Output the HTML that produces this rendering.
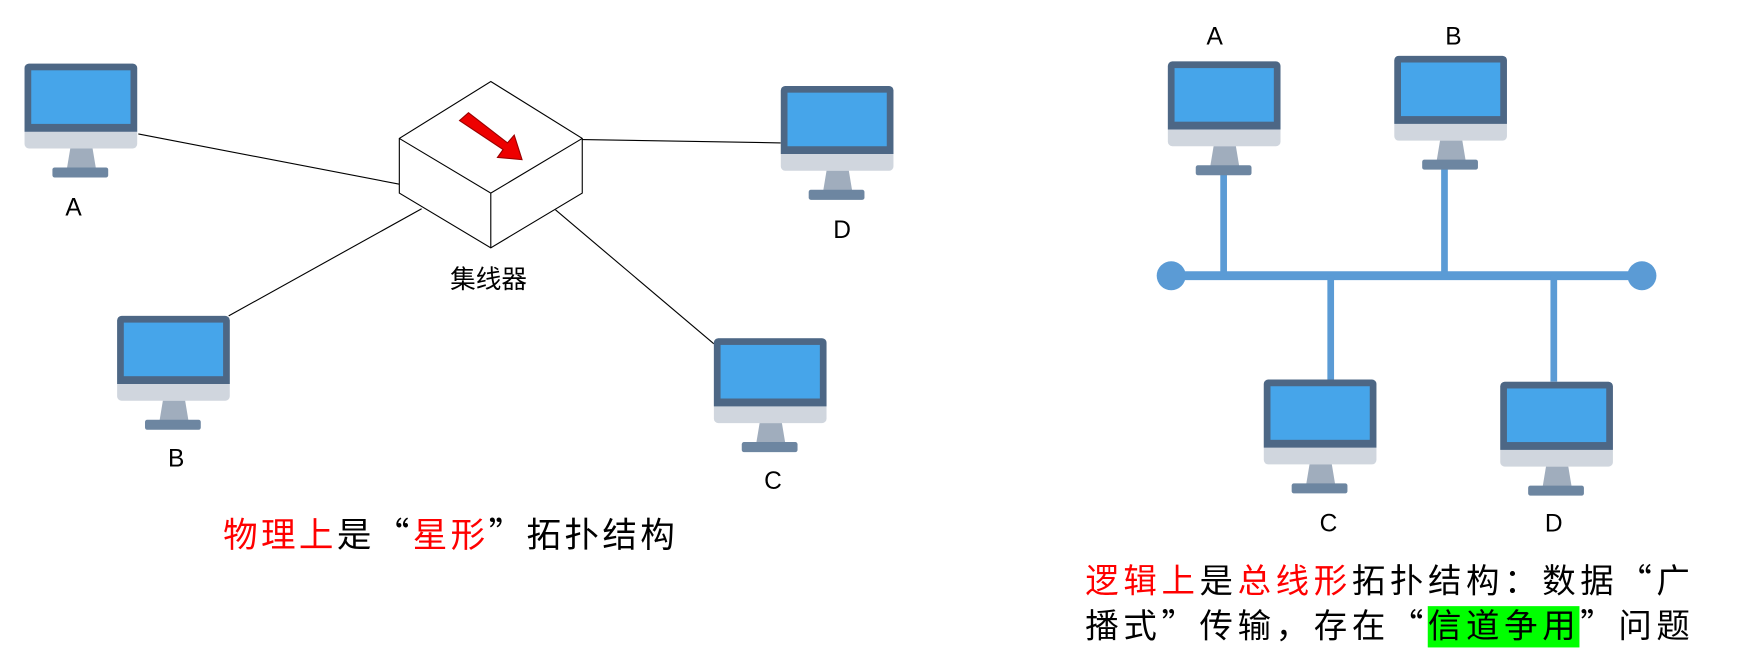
<!DOCTYPE html>
<html><head><meta charset="utf-8"><style>
html,body{margin:0;padding:0;background:#fff;width:1749px;height:672px;overflow:hidden}
svg{display:block}
text{font-family:"Liberation Sans","Noto Sans CJK SC",sans-serif}
.cjk{font-family:"Noto Sans CJK SC",sans-serif}
</style></head><body>
<svg width="1749" height="672" viewBox="0 0 1568 602" preserveAspectRatio="none">
<defs>
<g id="mon">
<rect x="0" y="0" width="101" height="76" rx="4" fill="#d0d6de"/>
<path d="M4 0 H97 A4 4 0 0 1 101 4 V61 H0 V4 A4 4 0 0 1 4 0Z" fill="#4d6785"/>
<rect x="6" y="6" width="89" height="48" fill="#46a5ea"/>
<path d="M41 76 H61 L64 94 H38Z" fill="#a0adbd"/>
<rect x="25" y="93" width="50" height="9" rx="2" fill="#6d86a1"/>
</g>
</defs>
<g stroke="#000" stroke-width="1">
<line x1="124" y1="120" x2="358" y2="165"/>
<line x1="522" y1="125" x2="700" y2="128"/>
<line x1="205" y1="283" x2="378" y2="187"/>
<line x1="498" y1="188" x2="640" y2="308"/>
</g>
<use href="#mon" x="22" y="57"/>
<use href="#mon" x="105" y="283"/>
<use href="#mon" x="700" y="77"/>
<use href="#mon" x="640" y="303"/>
<g stroke="#000" stroke-width="1" fill="#fff">
<path d="M440 73 L522 124 L522 173 L440 222 L358 173 L358 124Z"/>
<path d="M358 124 L440 173 L522 124 M440 173 V222" fill="none"/>
</g>
<path d="M412 108 L420 101 L455 128 L461 121 L468 143 L446 141 L451 134 Z" fill="#e00" stroke="#900" stroke-width="1"/>
<g font-size="22" text-anchor="middle">
<text x="66" y="193">A</text>
<text x="158" y="418">B</text>
<text x="755" y="213">D</text>
<text x="693" y="438">C</text>
<text x="438" y="258" font-size="23">集线器</text>
<text x="1089" y="40">A</text>
<text x="1303" y="40">B</text>
<text x="1191" y="476">C</text>
<text x="1393" y="476">D</text>
</g>
<text class="cjk" x="200" y="490" font-size="31" textLength="405" lengthAdjust="spacing"><tspan fill="#f00">物理上</tspan>是“<tspan fill="#f00">星形</tspan>”拓扑结构</text>
<g stroke="#5b9bd5" stroke-width="6">
<line x1="1050" y1="247" x2="1472" y2="247" stroke-width="8"/>
<line x1="1097" y1="150" x2="1097" y2="247"/>
<line x1="1295" y1="150" x2="1295" y2="247"/>
<line x1="1193" y1="247" x2="1193" y2="340"/>
<line x1="1393" y1="247" x2="1393" y2="342"/>
</g>
<circle cx="1050" cy="247" r="13" fill="#5b9bd5"/>
<circle cx="1472" cy="247" r="13" fill="#5b9bd5"/>
<use href="#mon" x="1047" y="55"/>
<use href="#mon" x="1250" y="50"/>
<use href="#mon" x="1133" y="340"/>
<use href="#mon" x="1345" y="342"/>
<rect x="1280" y="543" width="136" height="37" fill="#00ff00"/>
<text class="cjk" x="973" y="531" font-size="30" textLength="542" lengthAdjust="spacing"><tspan fill="#f00">逻辑上</tspan>是<tspan fill="#f00">总线形</tspan>拓扑结构：数据“广</text>
<text class="cjk" x="973" y="571" font-size="30" textLength="542" lengthAdjust="spacing">播式”传输，存在“信道争用”问题</text>
</svg>
</body></html>
